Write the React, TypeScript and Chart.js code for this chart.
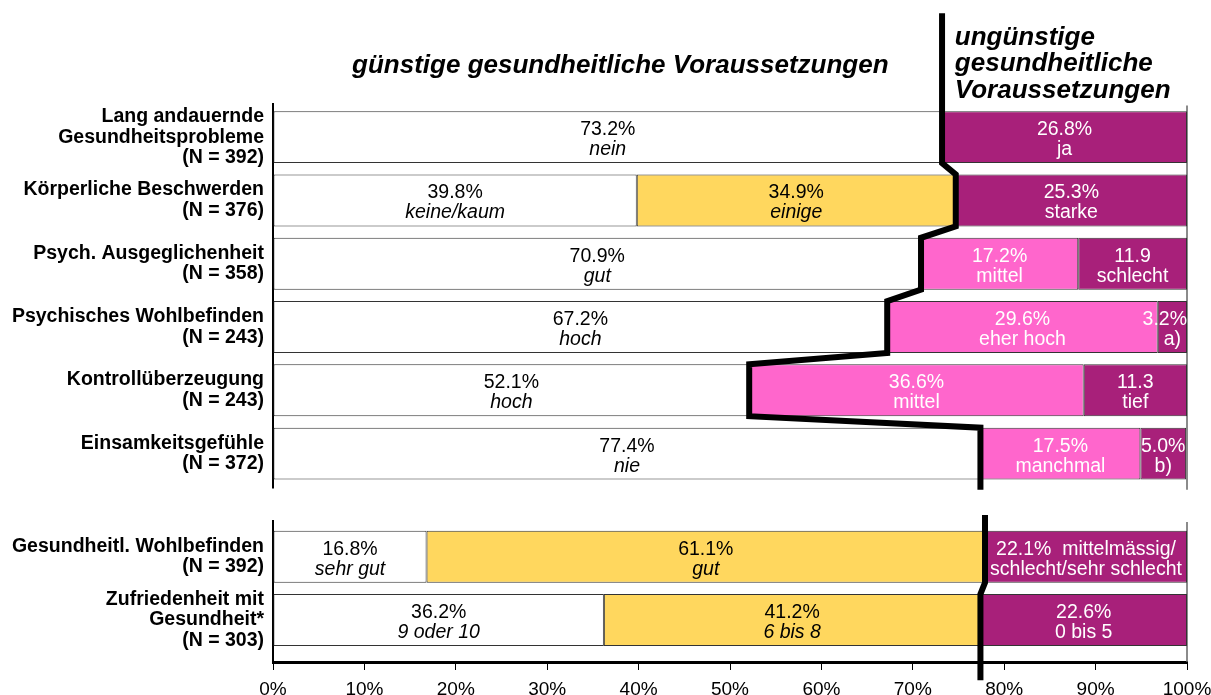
import React, { useEffect, useRef } from "react";
import { Chart, registerables } from "chart.js";

Chart.register(...registerables);

// ---------------- data ----------------
const categories: string[][] = [
  ["Lang andauernde", "Gesundheitsprobleme", "(N = 392)"],
  ["Körperliche Beschwerden", "(N = 376)"],
  ["Psych. Ausgeglichenheit", "(N = 358)"],
  ["Psychisches Wohlbefinden", "(N = 243)"],
  ["Kontrollüberzeugung", "(N = 243)"],
  ["Einsamkeitsgefühle", "(N = 372)"],
  ["Gesundheitl. Wohlbefinden", "(N = 392)"],
  ["Zufriedenheit mit", "Gesundheit*", "(N = 303)"],
];
const sectionOf = [0, 0, 0, 0, 0, 0, 1, 1];

const whiteValues: (number | null)[] = [73.2, 39.8, 70.9, 67.2, 52.1, 77.4, 16.8, 36.2];
const yellowValues: (number | null)[] = [null, 34.9, null, null, null, null, 61.1, 41.2];
const pinkValues: (number | null)[] = [null, null, 17.2, 29.6, 36.6, 17.5, null, null];
const purpleValues: (number | null)[] = [26.8, 25.3, 11.9, 3.2, 11.3, 5.0, 22.1, 22.6];

const whiteLabels = ["nein", "keine/kaum", "gut", "hoch", "hoch", "nie", "sehr gut", "9 oder 10"];
const yellowLabels = ["", "einige", "", "", "", "", "gut", "6 bis 8"];
const pinkLabels = ["", "", "mittel", "eher hoch", "mittel", "manchmal", "", ""];
const purpleLabels = ["ja", "starke", "schlecht", "a)", "tief", "b)", "mittelmässig/\nschlecht/sehr schlecht", "0 bis 5"];
const purpleUnits = ["%", "%", "", "%", "", "%", "%", "%"];

const xTickLabels = ["0%", "10%", "20%", "30%", "40%", "50%", "60%", "70%", "80%", "90%", "100%"];

const headerLeft = "günstige gesundheitliche Voraussetzungen";
const headerRight = ["ungünstige", "gesundheitliche", "Voraussetzungen"];

// ---------------- layout constants ----------------
const GAP = 0.63;
const HALF = 0.41;
const rowPos = categories.map((_, i) => i + (sectionOf[i] === 1 ? GAP : 0));
const Y_MIN = -0.54;
const Y_MAX = rowPos[7] + 0.663;

const WHITE = "#FFFFFF";
const YELLOW = "#FFD75E";
const PINK = "#FF66CC";
const PURPLE = "#A8207A";

const SANS = "'Liberation Sans', Arial, Helvetica, sans-serif";

function buildDivider() {
  const boundary = whiteValues.map((w, i) => (w ?? 0) + (yellowValues[i] ?? 0));
  const extTop = [1.96, 0.66];
  const extBottom = [0.57, 0.95];
  const pts: { x: number | null; y: number }[] = [];
  [0, 1].forEach((s) => {
    const rows = rowPos.map((_, i) => i).filter((i) => sectionOf[i] === s);
    const first = rows[0];
    const last = rows[rows.length - 1];
    pts.push({ x: boundary[first], y: rowPos[first] - extTop[s] });
    rows.forEach((k) => {
      pts.push({ x: boundary[k], y: rowPos[k] - HALF });
      pts.push({ x: boundary[k], y: rowPos[k] + HALF });
    });
    pts.push({ x: boundary[last], y: rowPos[last] + extBottom[s] });
    if (s === 0) pts.push({ x: null, y: rowPos[last] + 0.8 });
  });
  return pts;
}

function series(vals: (number | null)[]) {
  const out: { x: number; y: number }[] = [];
  vals.forEach((v, i) => {
    if (v !== null) out.push({ x: v, y: rowPos[i] });
  });
  return out;
}

function drawLabel(ctx: CanvasRenderingContext2D, text: string, cx: number, y: number, style: string, size: number, right: number) {
  ctx.save();
  ctx.font = `${style} ${size}px ${SANS}`;
  const w = ctx.measureText(text).width;
  let c = cx;
  if (c + w / 2 > right) c = right - w / 2;
  ctx.textAlign = "center";
  ctx.textBaseline = "alphabetic";
  ctx.fillText(text, c, y);
  ctx.restore();
}

const labelPlugin = {
  id: "barLabels",
  afterDatasetsDraw(chart: any) {
    const ctx: CanvasRenderingContext2D = chart.ctx;
    const right = chart.chartArea.right;
    const specs = [
      { ds: 0, vals: whiteValues, labels: whiteLabels, fav: true, units: null as string[] | null },
      { ds: 1, vals: yellowValues, labels: yellowLabels, fav: true, units: null },
      { ds: 2, vals: pinkValues, labels: pinkLabels, fav: false, units: null },
      { ds: 3, vals: purpleValues, labels: purpleLabels, fav: false, units: purpleUnits },
    ];
    specs.forEach((sp) => {
      const meta = chart.getDatasetMeta(sp.ds);
      let k = 0;
      sp.vals.forEach((v, i) => {
        if (v === null) return;
        const el = meta.data[k++];
        if (!el) return;
        const cx = (el.x + el.base) / 2;
        const cy = el.y;
        const unit = sp.units ? sp.units[i] : "%";
        const valText = v.toFixed(1) + unit;
        let l1 = valText;
        let l2 = sp.labels[i];
        if (l2.includes("\n")) {
          const parts = l2.split("\n");
          l1 = valText + "  " + parts[0];
          l2 = parts[1];
        }
        ctx.fillStyle = sp.fav ? "#000000" : "#FFFFFF";
        drawLabel(ctx, l1, cx, cy - 2, "normal", 19.5, right);
        drawLabel(ctx, l2, cx, cy + 18, sp.fav ? "italic" : "normal", 19.5, right);
      });
    });
  },
};

const framePlugin = {
  id: "frame",
  beforeDatasetsDraw(chart: any) {
    const ctx: CanvasRenderingContext2D = chart.ctx;
    const xs = chart.scales.x;
    const ys = chart.scales.y;
    const x0 = xs.getPixelForValue(0);
    const x1 = xs.getPixelForValue(100);
    const bottom = chart.chartArea.bottom;
    ctx.save();
    ctx.strokeStyle = "#000";
    ctx.lineWidth = 2;
    ctx.beginPath();
    ctx.moveTo(x0, ys.getPixelForValue(rowPos[0] - 0.54));
    ctx.lineTo(x0, ys.getPixelForValue(rowPos[5] + 0.55));
    ctx.moveTo(x0, ys.getPixelForValue(rowPos[6] - 0.58));
    ctx.lineTo(x0, bottom);
    ctx.stroke();
    ctx.strokeStyle = "#666";
    ctx.lineWidth = 1.5;
    ctx.beginPath();
    ctx.moveTo(x1, ys.getPixelForValue(rowPos[0] - 0.5));
    ctx.lineTo(x1, ys.getPixelForValue(rowPos[5] + 0.57));
    ctx.moveTo(x1, ys.getPixelForValue(rowPos[6] - 0.55));
    ctx.lineTo(x1, bottom);
    ctx.stroke();
    ctx.restore();
  },
  afterDraw(chart: any) {
    const ctx: CanvasRenderingContext2D = chart.ctx;
    const xs = chart.scales.x;
    ctx.save();
    ctx.fillStyle = "#000";
    ctx.font = `italic bold 26px ${SANS}`;
    ctx.textBaseline = "alphabetic";
    ctx.textAlign = "center";
    ctx.fillText(headerLeft, xs.getPixelForValue(38), 73);
    ctx.textAlign = "left";
    const hx = xs.getPixelForValue(74.6);
    headerRight.forEach((t, i) => ctx.fillText(t, hx, 44.5 + i * 26.5));
    ctx.restore();
  },
};

export default function App() {
  const ref = useRef<HTMLCanvasElement | null>(null);
  useEffect(() => {
    if (!ref.current) return;
    const barCommon = {
      type: "bar" as const,
      stack: "s",
      borderColor: "#333",
      borderWidth: 1,
      borderSkipped: false,
      categoryPercentage: 1,
      barPercentage: 0.82,
    };
    const chart = new Chart(ref.current, {
      type: "bar",
      data: {
        datasets: [
          { ...barCommon, label: "günstig", data: series(whiteValues), backgroundColor: WHITE },
          { ...barCommon, label: "günstig (mittel)", data: series(yellowValues), backgroundColor: YELLOW },
          { ...barCommon, label: "ungünstig (mittel)", data: series(pinkValues), backgroundColor: PINK },
          { ...barCommon, label: "ungünstig", data: series(purpleValues), backgroundColor: PURPLE },
          {
            type: "line" as const,
            label: "Grenze",
            data: buildDivider() as any,
            borderColor: "#000",
            borderWidth: 6,
            pointRadius: 0,
            tension: 0,
            spanGaps: false,
            clip: false as any,
            order: -1,
            borderJoinStyle: "miter",
          } as any,
        ],
      },
      options: {
        indexAxis: "y",
        animation: false,
        responsive: false,
        maintainAspectRatio: false,
        layout: { padding: { top: 103, right: 24, left: 0, bottom: 0 } },
        plugins: { legend: { display: false }, tooltip: { enabled: false }, title: { display: false } },
        scales: {
          x: {
            type: "linear",
            min: 0,
            max: 100,
            offset: false,
            ticks: {
              stepSize: 10,
              autoSkip: false,
              maxRotation: 0,
              color: "#000",
              padding: 8,
              font: { family: SANS, size: 19 },
              callback: (_v: any, i: number) => xTickLabels[i],
            },
            grid: { drawOnChartArea: false, drawTicks: true, tickLength: 8, color: "#000", tickWidth: 1, offset: false },
            border: { display: true, color: "#000", width: 3 },
            afterFit: (s: any) => {
              s.height = 33;
              s.paddingLeft = 0;
              s.paddingRight = 0;
              s.paddingTop = 0;
              s.paddingBottom = 0;
            },
          },
          y: {
            type: "linear",
            reverse: true,
            offset: false,
            min: Y_MIN,
            max: Y_MAX,
            afterBuildTicks: (s: any) => { s.ticks = rowPos.map((v) => ({ value: v })); },
            ticks: {
              autoSkip: false,
              color: "#000",
              padding: 9,
              font: { family: SANS, size: 19.5, weight: "bold", lineHeight: 1.06 },
              callback: (v: any) => {
                const idx = rowPos.findIndex((p) => Math.abs(p - Number(v)) < 1e-6);
                return idx >= 0 ? categories[idx] : "";
              },
            },
            grid: { display: false, drawTicks: false, offset: false },
            border: { display: false },
            afterFit: (s: any) => {
              s.width = 273;
              s.paddingLeft = 0;
              s.paddingRight = 0;
              s.paddingTop = 0;
              s.paddingBottom = 0;
            },
          },
        },
      } as any,
      plugins: [framePlugin, labelPlugin],
    });
    return () => chart.destroy();
  }, []);
  return (
    <div style={{ position: "absolute", left: 0, top: 0, width: 1211, height: 695, background: "#fff" }}>
      <canvas ref={ref} width={1211} height={695} style={{ width: 1211, height: 695, display: "block" }} />
    </div>
  );
}
